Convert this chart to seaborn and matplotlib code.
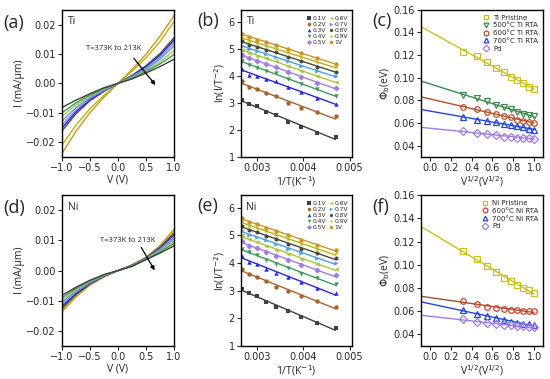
import numpy as np
import matplotlib
matplotlib.use("Agg")
import matplotlib.pyplot as plt
import seaborn as sns

sns.set_theme(style="ticks")
plt.rcParams["font.family"] = ["DejaVu Sans"]
plt.rcParams["mathtext.fontset"] = "dejavusans"

# -----------------------------
# Data
# -----------------------------
temps = [373, 353, 333, 313, 293, 273, 253, 233, 213]
inv_T = [1.0 / t for t in temps]
volts = [-1.0, -0.75, -0.5, -0.25, 0.0, 0.25, 0.5, 0.75, 1.0]

# I-V curves, Ti contact (mA/um), one row per temperature
iv_ti = [
    [-0.0238, -0.0163, -0.0099, -0.0047, 0, 0.0047, 0.0099, 0.0160, 0.0230],
    [-0.0210, -0.0142, -0.0086, -0.0041, 0, 0.0041, 0.0087, 0.0142, 0.0210],
    [-0.0162, -0.0103, -0.0059, -0.0027, 0, 0.0027, 0.0060, 0.0101, 0.0155],
    [-0.0152, -0.0096, -0.0055, -0.0025, 0, 0.0025, 0.0056, 0.0095, 0.0147],
    [-0.0142, -0.0090, -0.0051, -0.0023, 0, 0.0023, 0.0052, 0.0089, 0.0138],
    [-0.0128, -0.0082, -0.0047, -0.0021, 0, 0.0021, 0.0048, 0.0082, 0.0127],
    [-0.0112, -0.0073, -0.0042, -0.0019, 0, 0.0019, 0.0043, 0.0073, 0.0112],
    [-0.0100, -0.0066, -0.0039, -0.0017, 0, 0.0017, 0.0040, 0.0066, 0.0098],
    [-0.0082, -0.0057, -0.0035, -0.0015, 0, 0.0015, 0.0035, 0.0057, 0.0082],
]
# I-V curves, Ni contact
iv_ni = [
    [-0.0136, -0.0087, -0.0048, -0.0021, 0, 0.0019, 0.0044, 0.0083, 0.0137],
    [-0.0130, -0.0083, -0.0046, -0.0020, 0, 0.0018, 0.0043, 0.0080, 0.0130],
    [-0.0124, -0.0079, -0.0044, -0.0019, 0, 0.0018, 0.0042, 0.0077, 0.0123],
    [-0.0118, -0.0075, -0.0042, -0.0018, 0, 0.0017, 0.0041, 0.0074, 0.0117],
    [-0.0112, -0.0071, -0.0040, -0.0017, 0, 0.0017, 0.0040, 0.0071, 0.0111],
    [-0.0105, -0.0067, -0.0038, -0.0016, 0, 0.0016, 0.0039, 0.0068, 0.0104],
    [-0.0098, -0.0063, -0.0036, -0.0015, 0, 0.0015, 0.0038, 0.0065, 0.0097],
    [-0.0090, -0.0059, -0.0034, -0.0014, 0, 0.0015, 0.0037, 0.0062, 0.0090],
    [-0.0082, -0.0055, -0.0032, -0.0013, 0, 0.0014, 0.0036, 0.0058, 0.0082],
]
iv_colors = ["#C9962A", "#BDB300", "#4A4A3C", "#2727E0", "#9F7FE0",
             "#4BA0E6", "#A9C63A", "#3E9B5A", "#404040"]

# Arrhenius data ln(I/T^-2), one row per bias
bias_labels = ["0.1V", "0.2V", "0.3V", "0.4V", "0.5V",
               "0.6V", "0.7V", "0.8V", "0.9V", "1V"]
arr_ti = [
    [3.12, 2.97, 2.88, 2.65, 2.55, 2.30, 2.10, 1.90, 1.75],
    [3.82, 3.60, 3.50, 3.35, 3.25, 3.00, 2.82, 2.65, 2.50],
    [4.25, 4.05, 4.00, 3.90, 3.80, 3.60, 3.40, 3.20, 2.95],
    [4.55, 4.40, 4.30, 4.20, 4.10, 3.90, 3.70, 3.50, 3.25],
    [4.78, 4.65, 4.55, 4.45, 4.35, 4.15, 3.95, 3.75, 3.55],
    [4.98, 4.85, 4.75, 4.65, 4.55, 4.38, 4.18, 3.98, 3.78],
    [5.12, 5.00, 4.92, 4.82, 4.72, 4.55, 4.38, 4.18, 3.98],
    [5.28, 5.15, 5.08, 4.98, 4.88, 4.72, 4.55, 4.35, 4.15],
    [5.42, 5.30, 5.22, 5.12, 5.02, 4.87, 4.70, 4.50, 4.32],
    [5.56, 5.45, 5.35, 5.25, 5.15, 5.00, 4.85, 4.65, 4.45],
]
arr_ni = [
    [3.07, 2.92, 2.80, 2.60, 2.42, 2.25, 2.05, 1.85, 1.65],
    [3.78, 3.60, 3.50, 3.35, 3.15, 3.00, 2.80, 2.62, 2.42],
    [4.25, 4.05, 3.98, 3.80, 3.65, 3.50, 3.30, 3.10, 2.90],
    [4.52, 4.38, 4.28, 4.12, 3.98, 3.82, 3.62, 3.45, 3.25],
    [4.80, 4.62, 4.55, 4.40, 4.25, 4.10, 3.92, 3.75, 3.55],
    [5.00, 4.85, 4.75, 4.62, 4.48, 4.32, 4.15, 3.98, 3.78],
    [5.18, 5.02, 4.95, 4.82, 4.68, 4.52, 4.35, 4.18, 4.00],
    [5.35, 5.20, 5.12, 4.98, 4.85, 4.68, 4.52, 4.35, 4.18],
    [5.50, 5.35, 5.28, 5.15, 5.00, 4.85, 4.68, 4.50, 4.35],
    [5.62, 5.48, 5.42, 5.28, 5.15, 5.00, 4.82, 4.65, 4.48],
]
bias_colors = ["#404040", "#A8642E", "#2727E0", "#3E9B5A", "#9F7FE0",
               "#A9C63A", "#4BA0E6", "#4A4A3C", "#BDB300", "#C9962A"]
bias_markers = ["s", "o", "^", "v", "D", "<", ">", "h", "*", "o"]

# Barrier height vs sqrt(V)
bias_v = [0.1, 0.2, 0.3, 0.4, 0.5, 0.6, 0.7, 0.8, 0.9, 1.0]
sqrt_v = np.sqrt(bias_v)

phi_ti_labels = ["Ti Pristine", "500°C Ti RTA", "600°C Ti RTA", "700°C Ti RTA", "Pd"]
phi_ti = [
    [0.123, 0.119, 0.114, 0.109, 0.105, 0.101, 0.098, 0.095, 0.092, 0.090],
    [0.085, 0.082, 0.079, 0.076, 0.074, 0.072, 0.070, 0.068, 0.067, 0.066],
    [0.074, 0.072, 0.070, 0.068, 0.066, 0.065, 0.063, 0.062, 0.061, 0.060],
    [0.065, 0.063, 0.062, 0.061, 0.059, 0.058, 0.057, 0.056, 0.055, 0.054],
    [0.053, 0.051, 0.050, 0.049, 0.048, 0.048, 0.047, 0.047, 0.047, 0.046],
]
phi_ti_colors = ["#C8C020", "#3C8C50", "#B5502A", "#2244DD", "#9F7FE0"]
phi_ti_lines = ["#C8C020", "#3C8C50", "#B5502A", "#2244DD", "#9F7FE0"]
phi_ti_markers = ["s", "v", "o", "^", "D"]

phi_ni_labels = ["Ni Pristine", "600°C Ni RTA", "700°C Ni RTA", "Pd"]
phi_ni = [
    [0.112, 0.105, 0.099, 0.094, 0.089, 0.086, 0.083, 0.080, 0.078, 0.076],
    [0.069, 0.066, 0.064, 0.063, 0.062, 0.061, 0.061, 0.060, 0.060, 0.060],
    [0.061, 0.058, 0.056, 0.054, 0.052, 0.051, 0.050, 0.049, 0.049, 0.048],
    [0.053, 0.051, 0.050, 0.049, 0.048, 0.048, 0.047, 0.047, 0.046, 0.046],
]
phi_ni_colors = ["#C8C020", "#D04030", "#2244DD", "#9F7FE0"]
phi_ni_lines = ["#C8C020", "#A0522D", "#2244DD", "#9F7FE0"]
phi_ni_markers = ["s", "o", "^", "D"]

# -----------------------------
# Figure
# -----------------------------
fig = plt.figure(figsize=(5.5, 3.79), dpi=100)

row_pos = [(0.586, 0.388), (0.087, 0.398)]
col_pos = [(0.1127, 0.2036), (0.438, 0.202), (0.7655, 0.2218)]

label_font = "Open Sans"


def style_axes(ax):
    for s in ax.spines.values():
        s.set_linewidth(1.0)
        s.set_color("black")
    ax.tick_params(direction="out", length=3, width=0.8, labelsize=7, pad=1.5)


def iv_panel(ax, data, metal, arrow_start, arrow_end, text_xy):
    for row, c in zip(data, iv_colors):
        sns.lineplot(x=volts, y=row, color=c, lw=1.0, ax=ax)
    ax.set_xlim(-1, 1)
    ax.set_ylim(-0.025, 0.025)
    ax.set_xticks([-1.0, -0.5, 0.0, 0.5, 1.0])
    ax.set_yticks([-0.02, -0.01, 0.0, 0.01, 0.02])
    ax.set_yticklabels(["\u22120.02", "\u22120.01", "0.00", "0.01", "0.02"])
    ax.set_xticklabels(["\u22121.0", "\u22120.5", "0.0", "0.5", "1.0"])
    ax.set_xlabel("V (V)", fontsize=7.5, family=label_font, labelpad=1)
    ax.set_ylabel("I (mA/\u03bcm)", fontsize=7.5, family=label_font, labelpad=1)
    ax.text(0.05, 0.92, metal, transform=ax.transAxes, fontsize=7.5,
            family=label_font, va="center")
    ax.annotate("", xy=arrow_end, xytext=arrow_start,
                arrowprops=dict(arrowstyle="-|>", color="black", lw=0.9,
                                mutation_scale=6))
    ax.text(text_xy[0], text_xy[1], "T=373K to 213K", fontsize=5.5,
            family=label_font, ha="center", va="center")
    style_axes(ax)


def arr_panel(ax, data, metal):
    handles = []
    for row, c, m, lab in zip(data, bias_colors, bias_markers, bias_labels):
        sns.regplot(x=inv_T, y=row, ci=None, scatter=False, ax=ax,
                    line_kws=dict(color=c, lw=1.0))
        h, = ax.plot(inv_T, row, ls="none", marker=m, color=c, ms=3.2,
                     mew=0, label=lab)
        handles.append(h)
    ax.set_xlim(0.00265, 0.00505)
    ax.set_ylim(1, 6.45)
    ax.set_xticks([0.003, 0.004, 0.005])
    ax.set_xticklabels(["0.003", "0.004", "0.005"])
    ax.set_yticks([1, 2, 3, 4, 5, 6])
    ax.set_xlabel("1/T(K$^{-1}$)", fontsize=7.5, family=label_font, labelpad=1)
    ax.set_ylabel("ln(I/T$^{-2}$)", fontsize=7.5, family=label_font, labelpad=1)
    ax.text(0.05, 0.92, metal, transform=ax.transAxes, fontsize=7.5,
            family=label_font, va="center")
    ax.legend(handles=handles, ncol=2, loc="upper right", frameon=False,
              fontsize=4.3, markerscale=0.8, handlelength=0.8,
              handletextpad=0.2, columnspacing=0.3, labelspacing=0.15,
              borderaxespad=0.3, bbox_to_anchor=(1.0, 0.99))
    style_axes(ax)


def phi_panel(ax, data, labels, colors, lines, markers):
    handles = []
    ax.set_xlim(-0.085, 1.0)
    for row, c, lc, m, lab in zip(data, colors, lines, markers, labels):
        sns.regplot(x=sqrt_v, y=row, ci=None, scatter=False, truncate=False,
                    ax=ax, line_kws=dict(color=lc, lw=1.0))
        h, = ax.plot(sqrt_v, row, ls="none", marker=m, mfc="none", mec=c,
                     mew=0.9, ms=4, label=lab)
        handles.append(h)
    ax.set_xlim(-0.085, 1.085)
    ax.set_ylim(0.03, 0.16)
    ax.set_xticks([0.0, 0.2, 0.4, 0.6, 0.8, 1.0])
    ax.set_yticks([0.04, 0.06, 0.08, 0.10, 0.12, 0.14, 0.16])
    ax.set_yticklabels(["0.04", "0.06", "0.08", "0.10", "0.12", "0.14", "0.16"])
    ax.set_xlabel("V$^{1/2}$(V$^{1/2}$)", fontsize=7.5, family=label_font,
                  labelpad=1)
    ax.set_ylabel("$\\Phi_{\\mathrm{b}}$(eV)", fontsize=7.5, family=label_font,
                  labelpad=1)
    ax.legend(handles=handles, loc="upper right", frameon=False, fontsize=5,
              handlelength=1.0, handletextpad=0.5, labelspacing=0.25,
              borderaxespad=0.3, markerscale=0.85)
    style_axes(ax)


axes = {}
for r, (b, h) in enumerate(row_pos):
    for c, (l, w) in enumerate(col_pos):
        axes[(r, c)] = fig.add_axes([l, b, w, h])

iv_panel(axes[(0, 0)], iv_ti, "Ti", (0.25, 0.0093), (0.70, -0.0013), (-0.08, 0.0117))
iv_panel(axes[(1, 0)], iv_ni, "Ni", (0.39, 0.0085), (0.68, -0.0007), (0.18, 0.0100))
arr_panel(axes[(0, 1)], arr_ti, "Ti")
arr_panel(axes[(1, 1)], arr_ni, "Ni")
phi_panel(axes[(0, 2)], phi_ti, phi_ti_labels, phi_ti_colors, phi_ti_lines, phi_ti_markers)
phi_panel(axes[(1, 2)], phi_ni, phi_ni_labels, phi_ni_colors, phi_ni_lines, phi_ni_markers)

# panel letters
letters = [("(a)", 3, 23), ("(b)", 197, 21), ("(c)", 372, 21),
           ("(d)", 3, 208), ("(e)", 197, 206), ("(f)", 372, 207)]
for txt, px, py in letters:
    fig.text(px / 550, 1 - py / 379, txt, fontsize=13, family=label_font,
             va="center", ha="left")

plt.savefig("out.png", dpi=100)
